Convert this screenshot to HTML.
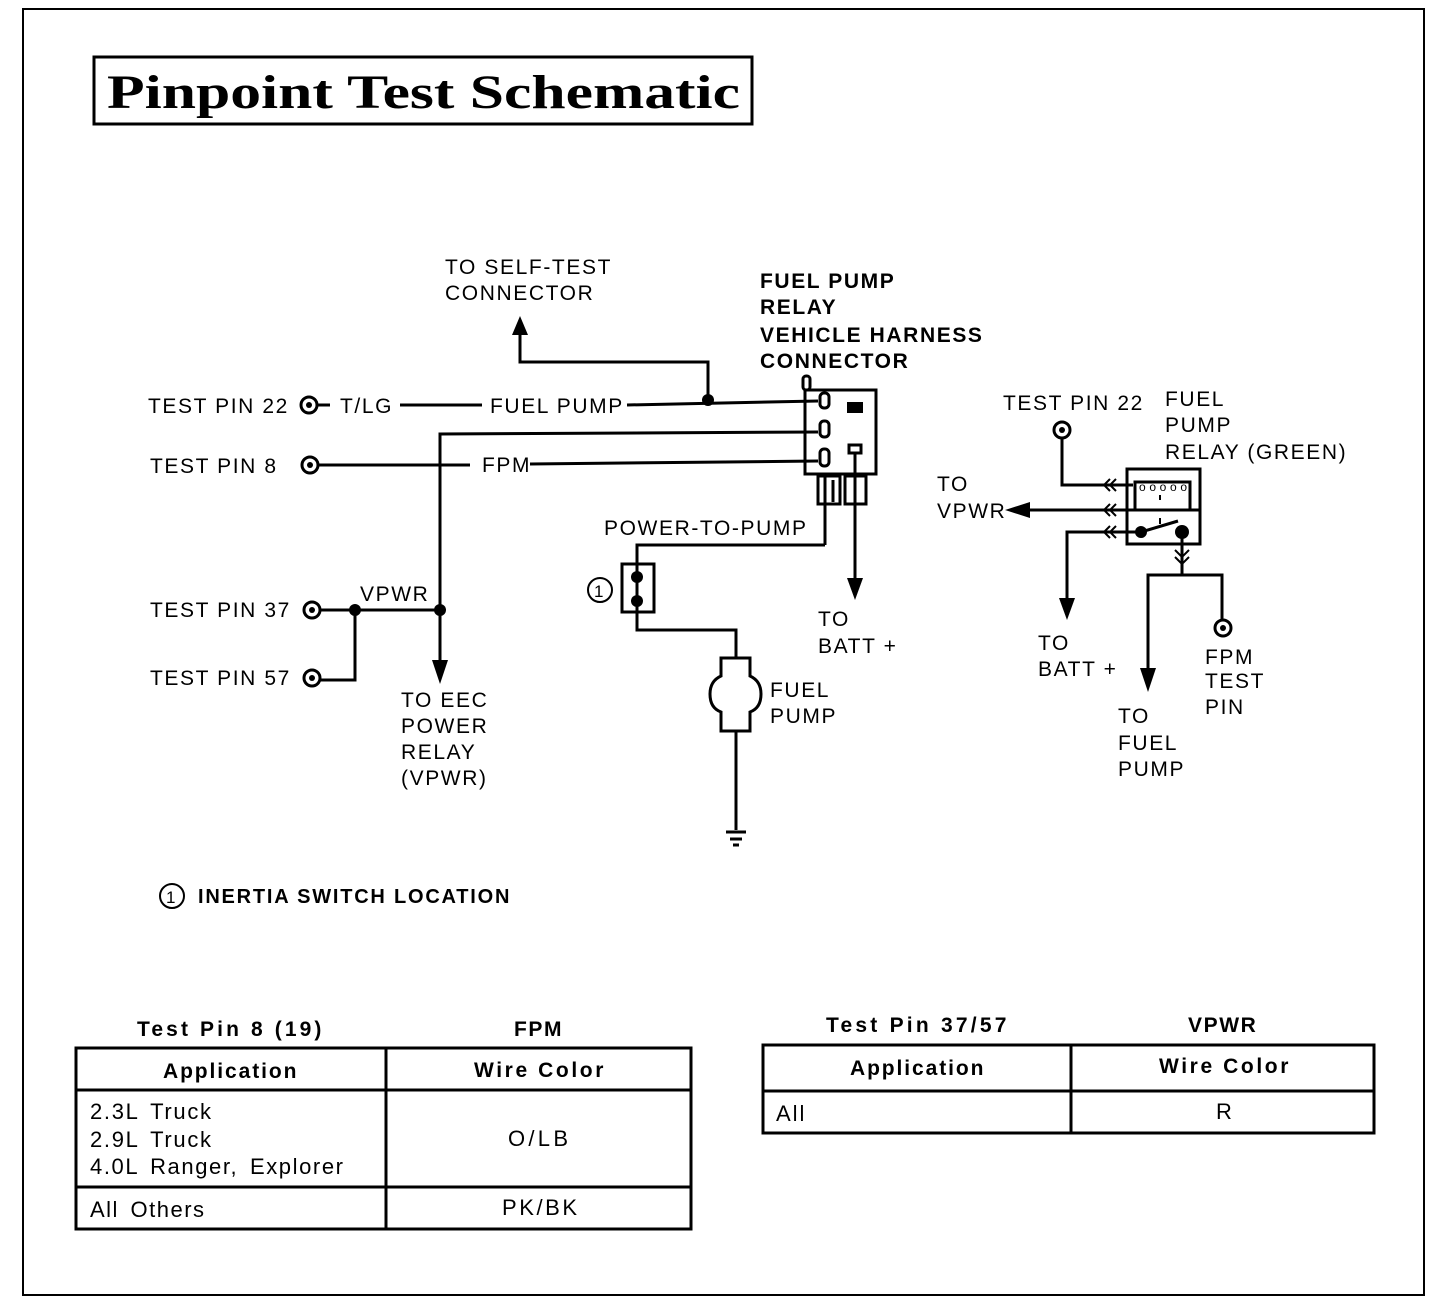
<!DOCTYPE html>
<html><head><style>
html,body{margin:0;padding:0;background:#fff;}
svg{display:block;}
text{font-family:"Liberation Sans",sans-serif;font-size:21px;fill:#000;letter-spacing:1.6px;}
.b{font-weight:bold;}
.t{font-size:22px;letter-spacing:2px;word-spacing:4px;}
</style></head><body>
<svg width="1456" height="1298" viewBox="0 0 1456 1298" xmlns="http://www.w3.org/2000/svg">
<rect x="0" y="0" width="1456" height="1298" fill="#fff"/>
<rect x="23" y="9" width="1401" height="1286" fill="none" stroke="#000" stroke-width="2"/>
<rect x="94" y="57" width="658" height="67" fill="none" stroke="#000" stroke-width="3"/>
<text x="107" y="108" style="font-family:'Liberation Serif',serif;font-size:48px;font-weight:bold;letter-spacing:0" textLength="633" lengthAdjust="spacingAndGlyphs">Pinpoint Test Schematic</text>

<g fill="none" stroke="#000" stroke-width="3">
<circle cx="309" cy="405" r="8"/>
<circle cx="310" cy="465" r="8"/>
<circle cx="312" cy="610" r="8"/>
<circle cx="312" cy="678" r="8"/>
<circle cx="1062" cy="430" r="8"/>
<circle cx="1223" cy="628" r="8"/>
<circle cx="172" cy="896" r="12" stroke-width="2"/>
<circle cx="600" cy="590" r="12" stroke-width="2"/>
</g>
<g fill="#000">
<circle cx="309" cy="405" r="3"/><circle cx="310" cy="465" r="3"/>
<circle cx="312" cy="610" r="3"/><circle cx="312" cy="678" r="3"/>
<circle cx="1062" cy="430" r="3"/><circle cx="1223" cy="628" r="3"/>
<circle cx="708" cy="400" r="6"/><circle cx="355" cy="610" r="6"/><circle cx="440" cy="610" r="6"/>
<circle cx="637" cy="577" r="6"/><circle cx="637" cy="601" r="6"/>
<circle cx="1141" cy="532" r="6"/><circle cx="1182" cy="532" r="7"/>
<polygon points="512,335 528,335 520,316"/>
<polygon points="432,660 448,660 440,684"/>
<polygon points="847,578 863,578 855,600"/>
<polygon points="1059,598 1075,598 1067,620"/>
<polygon points="1140,668 1156,668 1148,692"/>
<polygon points="1030,502 1030,518 1005,510"/>
<rect x="847" y="402" width="16" height="11"/>
</g>

<g fill="none" stroke="#000" stroke-width="3">
<line x1="317" y1="405" x2="330" y2="405"/>
<line x1="400" y1="405" x2="482" y2="405"/>
<line x1="627" y1="405" x2="818" y2="401"/>
<polyline points="708,400 708,362 520,362 520,335"/>
<polyline points="818,432 440,434 440,662"/>
<line x1="318" y1="465" x2="470" y2="465"/>
<line x1="530" y1="464" x2="818" y2="461"/>
<line x1="320" y1="610" x2="440" y2="610"/>
<polyline points="355,610 355,680 320,680"/>
<rect x="805" y="390" width="71" height="84"/>
<rect x="803" y="376" width="7" height="14" rx="3"/>
<rect x="820" y="393" width="9" height="15" rx="4"/>
<rect x="820" y="421" width="9" height="16" rx="4"/>
<rect x="820" y="449" width="9" height="17" rx="4"/>
<rect x="849" y="445" width="12" height="8"/>
<line x1="855" y1="453" x2="855" y2="505"/>
<rect x="818" y="476" width="22" height="28"/>
<rect x="845" y="476" width="21" height="28"/>
<line x1="825" y1="476" x2="825" y2="545"/>
<line x1="833" y1="480" x2="833" y2="502"/>
<line x1="855" y1="505" x2="855" y2="580"/>
<polyline points="825,545 637,545 637,612 637,630 736,630 736,658"/>
<rect x="622" y="564" width="32" height="48"/>
<path d="M721,658 H750 V676 Q761,681 761,694 Q761,708 750,712 V731 H721 V712 Q710,708 710,694 Q710,681 721,676 Z"/>
<line x1="736" y1="731" x2="736" y2="830"/>
<line x1="726" y1="832" x2="746" y2="832"/>
<line x1="730" y1="839" x2="742" y2="839"/>
<line x1="733" y1="845" x2="739" y2="845"/>
<rect x="1127" y="469" width="73" height="75"/>
<path d="M1135,509 V482 H1190 V509"/>
<polyline points="1062,438 1062,485 1133,485"/>
<line x1="1028" y1="510" x2="1200" y2="510"/>
<polyline points="1141,532 1067,532 1067,600"/>
<line x1="1141" y1="532" x2="1178" y2="521"/>
<line x1="1182" y1="532" x2="1182" y2="575"/>
<polyline points="1148,670 1148,575 1222,575 1222,620"/>
<line x1="1160" y1="495" x2="1160" y2="500" stroke-width="2"/>
<line x1="1160" y1="518" x2="1160" y2="524" stroke-width="2"/>
<polyline points="1110,479 1104,485 1110,491" stroke-width="2"/>
<polyline points="1116,479 1110,485 1116,491" stroke-width="2"/>
<polyline points="1110,504 1104,510 1110,516" stroke-width="2"/>
<polyline points="1116,504 1110,510 1116,516" stroke-width="2"/>
<polyline points="1110,526 1104,532 1110,538" stroke-width="2"/>
<polyline points="1116,526 1110,532 1116,538" stroke-width="2"/>
<polyline points="1175,550 1182,557 1189,550" stroke-width="2"/>
<polyline points="1175,557 1182,564 1189,557" stroke-width="2"/>
</g>
<text x="1139" y="491" style="font-size:12px;letter-spacing:0" textLength="48">ooooo</text>

<text x="148" y="413">TEST PIN 22</text>
<text x="340" y="413">T/LG</text>
<text x="490" y="413">FUEL PUMP</text>
<text x="150" y="473">TEST PIN 8</text>
<text x="482" y="472">FPM</text>
<text x="150" y="617">TEST PIN 37</text>
<text x="150" y="685">TEST PIN 57</text>
<text x="360" y="601">VPWR</text>
<text x="401" y="707">TO EEC</text>
<text x="401" y="733">POWER</text>
<text x="401" y="759">RELAY</text>
<text x="401" y="785">(VPWR)</text>
<text x="445" y="274">TO SELF-TEST</text>
<text x="445" y="300">CONNECTOR</text>
<text class="b" x="760" y="288">FUEL PUMP</text>
<text class="b" x="760" y="314">RELAY</text>
<text class="b" x="760" y="342">VEHICLE HARNESS</text>
<text class="b" x="760" y="368">CONNECTOR</text>
<text x="604" y="535">POWER-TO-PUMP</text>
<text x="594" y="597" style="font-size:17px;letter-spacing:0">1</text>
<text x="770" y="697">FUEL</text>
<text x="770" y="723">PUMP</text>
<text x="818" y="626">TO</text>
<text x="818" y="653">BATT +</text>
<text x="1003" y="410">TEST PIN 22</text>
<text x="1165" y="406">FUEL</text>
<text x="1165" y="432">PUMP</text>
<text x="1165" y="459">RELAY (GREEN)</text>
<text x="937" y="491">TO</text>
<text x="937" y="518">VPWR</text>
<text x="1038" y="650">TO</text>
<text x="1038" y="676">BATT +</text>
<text x="1205" y="664">FPM</text>
<text x="1205" y="688">TEST</text>
<text x="1205" y="714">PIN</text>
<text x="1118" y="723">TO</text>
<text x="1118" y="750">FUEL</text>
<text x="1118" y="776">PUMP</text>
<text x="166" y="903" style="font-size:17px;letter-spacing:0">1</text>
<text class="b" x="198" y="903" style="font-size:20px" textLength="313">INERTIA SWITCH LOCATION</text>

<text class="b" x="137" y="1036" textLength="186">Test Pin 8 (19)</text>
<text class="b" x="514" y="1036">FPM</text>
<g fill="none" stroke="#000" stroke-width="3">
<rect x="76" y="1048" width="615" height="181"/>
<line x1="76" y1="1090" x2="691" y2="1090"/>
<line x1="76" y1="1187" x2="691" y2="1187"/>
<line x1="386" y1="1048" x2="386" y2="1229"/>
<rect x="763" y="1045" width="611" height="88"/>
<line x1="763" y1="1091" x2="1374" y2="1091"/>
<line x1="1071" y1="1045" x2="1071" y2="1133"/>
</g>
<text class="b" x="163" y="1078" textLength="135">Application</text>
<text class="b" x="474" y="1077" textLength="131">Wire Color</text>
<text class="t" x="90" y="1119" textLength="123">2.3L Truck</text>
<text class="t" x="90" y="1147" textLength="123">2.9L Truck</text>
<text class="t" x="90" y="1174" textLength="255">4.0L Ranger, Explorer</text>
<text class="t" x="508" y="1146" textLength="62">O/LB</text>
<text class="t" x="90" y="1217" textLength="116">All Others</text>
<text class="t" x="502" y="1215" textLength="77">PK/BK</text>
<text class="b" x="826" y="1032" textLength="182">Test Pin 37/57</text>
<text class="b" x="1188" y="1032">VPWR</text>
<text class="b" x="850" y="1075" textLength="135">Application</text>
<text class="b" x="1159" y="1073" textLength="131">Wire Color</text>
<text class="t" x="776" y="1121">All</text>
<text class="t" x="1216" y="1119">R</text>
</svg>
</body></html>
